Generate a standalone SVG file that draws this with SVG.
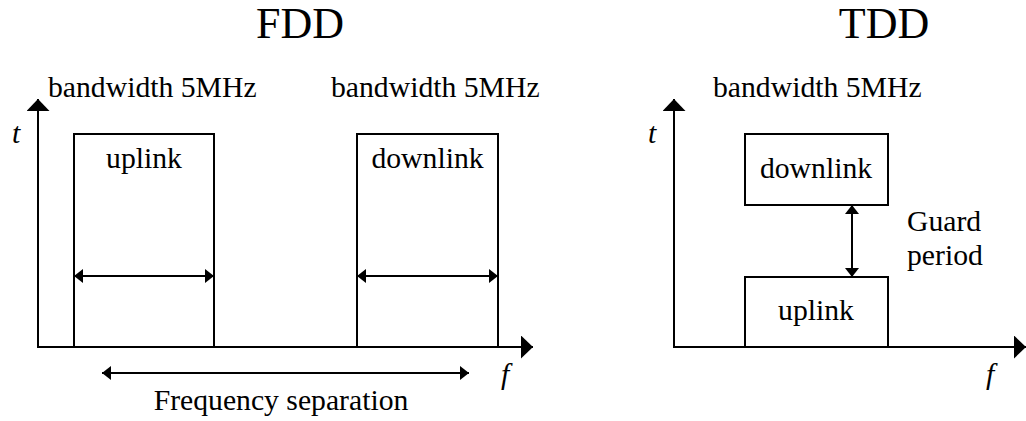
<svg xmlns="http://www.w3.org/2000/svg" width="1026" height="421" viewBox="0 0 1026 421">
<defs>
<style>
text{font-family:'Liberation Serif','Times New Roman',serif;fill:#000}
.t{font-size:44px;text-anchor:middle}
.l{font-size:29.7px}
.c{text-anchor:middle}
.i{font-style:italic}
.ln{stroke:#000;stroke-width:2;fill:none}
.box{stroke:#000;stroke-width:2;fill:none}
</style>
<marker id="big" markerUnits="userSpaceOnUse" markerWidth="12" markerHeight="23" refX="12" refY="11.5" orient="auto-start-reverse" viewBox="0 0 12 23">
<path d="M0,0 L12,11.5 L0,23 z" fill="#000"/>
</marker>
<marker id="sm" markerUnits="userSpaceOnUse" markerWidth="9" markerHeight="14" refX="9" refY="7" orient="auto-start-reverse" viewBox="0 0 9 14">
<path d="M0,0 L9,7 L0,14 z" fill="#000"/>
</marker>
</defs>
<rect width="1026" height="421" fill="#fff"/>
<g font-family="Liberation Serif, serif">
<text class="t" x="300" y="38">FDD</text>
<text class="t" x="884" y="38">TDD</text>
<g id="fdd-axes">
<line class="ln" x1="38" y1="347" x2="38" y2="99" marker-end="url(#big)"/>
<line class="ln" x1="37" y1="347" x2="533" y2="347" marker-end="url(#big)"/>
<text class="l i" x="12" y="143">t</text>
<text class="l i c" x="505" y="384">f</text>
</g>
<g id="fdd-uplink">
<rect class="box" x="74" y="134" width="140" height="213"/>
<text class="l c" x="144" y="168">uplink</text>
<text class="l" x="48" y="97">bandwidth 5MHz</text>
</g>
<g id="fdd-downlink">
<rect class="box" x="357" y="134" width="141" height="213"/>
<text class="l c" x="427.5" y="168">downlink</text>
<text class="l" x="331" y="97">bandwidth 5MHz</text>
</g>
<g id="tdd-axes">
<line class="ln" x1="674" y1="347" x2="674" y2="99" marker-end="url(#big)"/>
<line class="ln" x1="673" y1="347" x2="1026" y2="347" marker-end="url(#big)"/>
<text class="l i" x="648" y="143">t</text>
<text class="l i c" x="990" y="384">f</text>
<text class="l" x="713" y="97">bandwidth 5MHz</text>
</g>
<g id="tdd-downlink">
<rect class="box" x="745" y="134" width="143" height="71"/>
<text class="l c" x="816" y="178">downlink</text>
</g>
<g id="tdd-uplink">
<rect class="box" x="745" y="277" width="143" height="70"/>
<text class="l c" x="816" y="320">uplink</text>
</g>
<g id="guard-label">
<text class="l" x="907" y="231">Guard</text>
<text class="l" x="907" y="265">period</text>
</g>
<g id="connectors">
<line class="ln" x1="74" y1="276" x2="214" y2="276" marker-start="url(#sm)" marker-end="url(#sm)"/>
<line class="ln" x1="357" y1="276" x2="498" y2="276" marker-start="url(#sm)" marker-end="url(#sm)"/>
<line class="ln" x1="102" y1="373" x2="469" y2="373" marker-start="url(#sm)" marker-end="url(#sm)"/>
<line class="ln" x1="852" y1="205" x2="852" y2="277" marker-start="url(#sm)" marker-end="url(#sm)"/>
<text class="l c" x="281" y="410">Frequency separation</text>
</g>
</g>
</svg>
